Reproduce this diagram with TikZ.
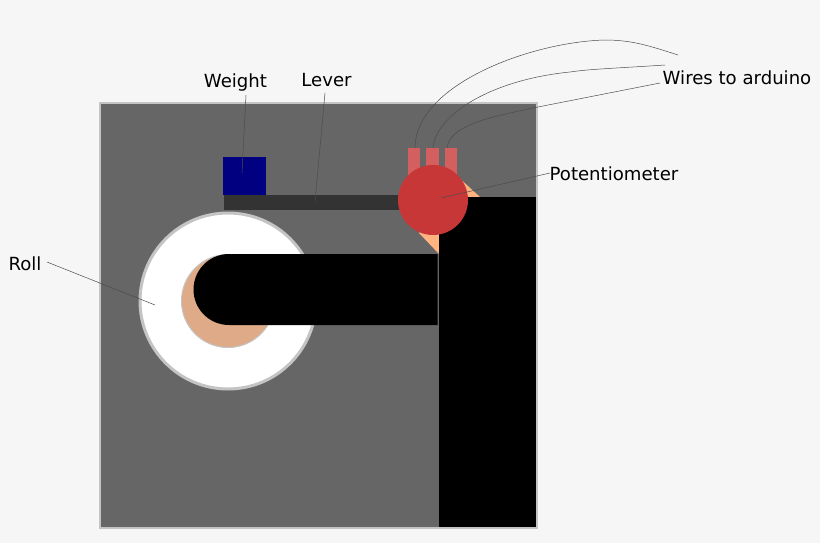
\documentclass[tikz,border=0pt]{standalone}
\usepackage{fontspec}
\setmainfont{DejaVu Sans}
\definecolor{pagebg}{HTML}{F6F6F6}
\definecolor{panelgrey}{HTML}{666666}
\definecolor{rimgrey}{HTML}{C4C4C4}
\definecolor{leverdark}{HTML}{333333}
\definecolor{weightblue}{HTML}{000080}
\definecolor{rollcore}{HTML}{DEAA87}
\definecolor{potorange}{HTML}{FFB380}
\definecolor{potred}{HTML}{C83737}
\definecolor{pinred}{HTML}{D35F5F}
\tikzset{
    caption/.style={font=\fontsize{18.1pt}{20pt}\selectfont, text=black, inner sep=0pt},
    leader/.style={draw=black!70, line width=0.5pt},
    pin/.style={fill=pinred},
}
\begin{document}
\begin{tikzpicture}[x=1pt,y=-1pt]
    \useasboundingbox (0,0) rectangle (820,543);
    \fill[pagebg] (0,0) rectangle (820,543);
    \filldraw[fill=panelgrey,draw=rimgrey,line width=2pt] (100,103) rectangle (537,528); % panel
    \filldraw[fill=white,draw=rimgrey,line width=3pt] (228,301) circle (88); % roll
    \filldraw[fill=rollcore,draw=rimgrey,line width=1pt] (228,301) circle (46.5);
    \fill[leverdark] (223.5,195) rectangle (405,209.5); % lever
    \fill[weightblue] (223,157) rectangle (266,195); % weight
    \fill[potorange] (457,176) -- (480,197) -- (439,254) -- (419,233) -- cycle;
    \fill[black] (438.5,196.5) rectangle (536,527); % stand
    \fill[black] (437.5,254) -- (229,254) arc[start angle=-90,end angle=-270,radius=35.5] -- (437.5,325) -- cycle; % arm
    \foreach \px/\pw in {408/12,426/13,445/12}
        \fill[pin] (\px,148) rectangle ++(\pw,30);
    \fill[potred] (433,200) circle (35); % potentiometer

    \node[caption] (weightlabel) at (235.5,83) {Weight};
    \node[caption] (leverlabel) at (326.5,80.5) {Lever};
    \node[caption] (rolllabel) at (25,263.5) {Roll};
    \node[caption] (potlabel) at (614,173.5) {Potentiometer};
    \node[caption] (wireslabel) at (737,78) {Wires to arduino};

    \coordinate (weightend) at (242,173);
    \coordinate (leverend) at (315,202);
    \coordinate (rollend) at (155,305);
    \coordinate (potend) at (441,198);
    \coordinate (wirea) at (678,55);
    \coordinate (wireb) at (665,65);
    \coordinate (wirec) at (660,83);
    \coordinate (pina) at (415,148);
    \coordinate (pinb) at (433,148);
    \coordinate (pinc) at (447,148);

    \draw[leader] (246,95) -- (weightend);
    \draw[leader] (325,93) -- (leverend);
    \draw[leader] (47,262) -- (rollend);
    \draw[leader] (550,173) -- (potend);
    \draw[leader] (wirea) .. controls (650,46) and (632,40) .. (605,40)
        .. controls (530,42) and (415,85) .. (pina);
    \draw[leader] (wireb) .. controls (620,68) and (590,69) .. (570,72)
        .. controls (490,80) and (436,115) .. (pinb);
    \draw[leader] (wirec) -- (538,107) .. controls (490,117) and (450,125) .. (pinc);
\end{tikzpicture}
\end{document}
